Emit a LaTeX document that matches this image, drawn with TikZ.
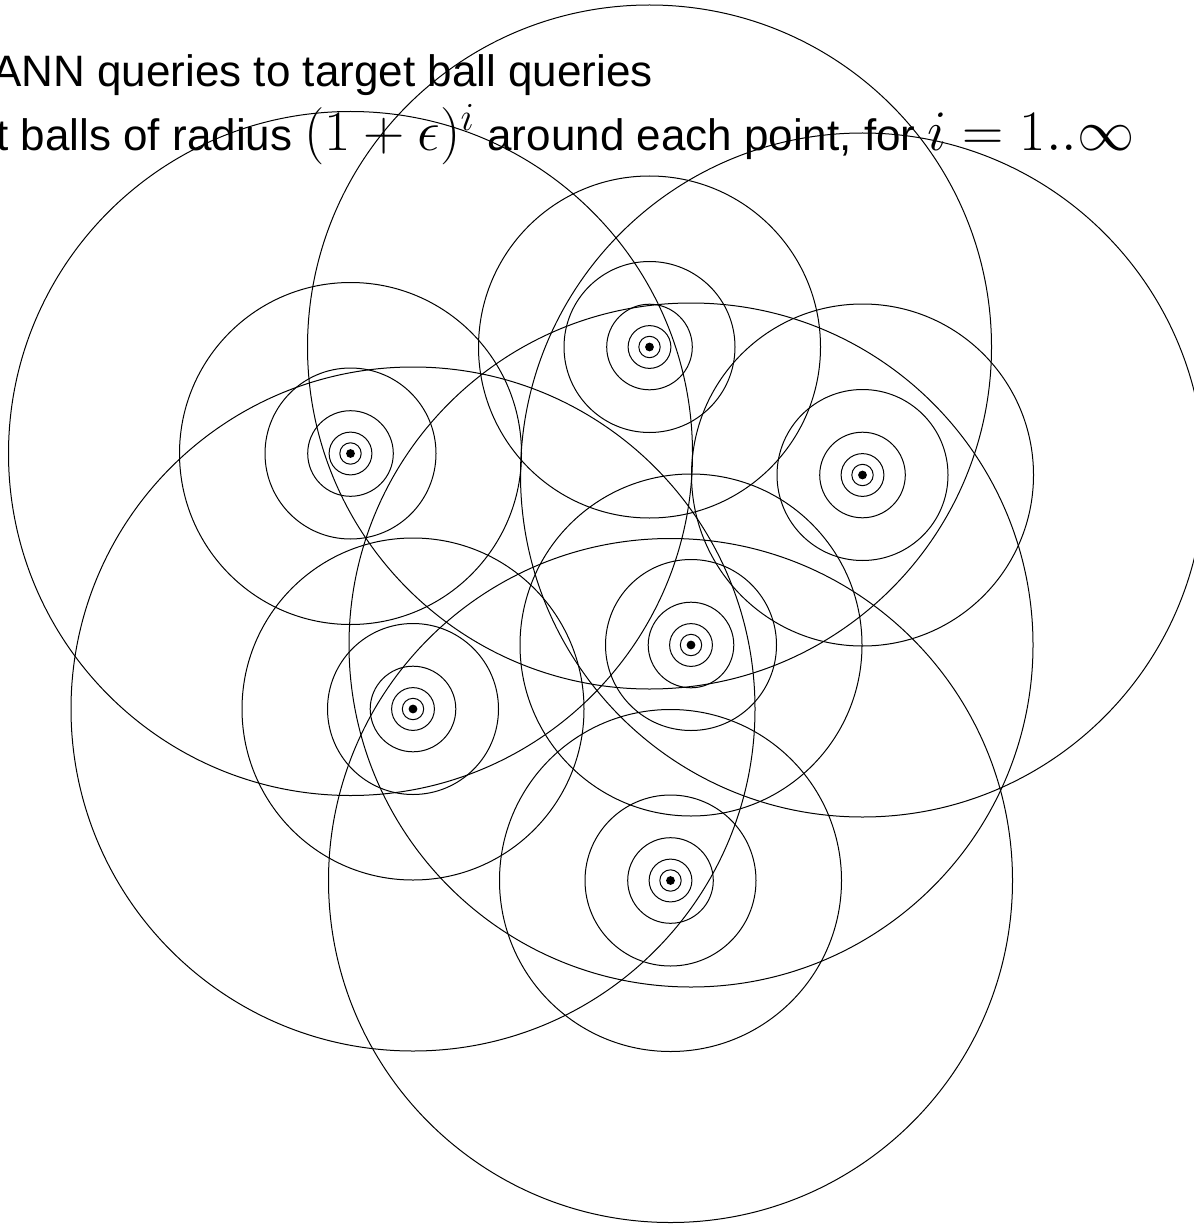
\documentclass[tikz,border=0pt]{standalone}
\usepackage[no-math]{fontspec}
\usepackage{graphicx}
\setmainfont{Liberation Sans}
\newcommand{\bigmath}[1]{\scalebox{1.38}{$#1$}}
\begin{document}
\begin{tikzpicture}[x=0.5pt,y=-0.5pt,
  ring/.style={line width=0.5pt},
  ctr/.style={fill=black},
  title/.style={anchor=base west,inner sep=0pt,font=\fontsize{22}{26}\selectfont}]
\useasboundingbox (0,0) rectangle (1193,1225);
\foreach \n/\x/\y in {p1/350.5/453.5,p2/649.5/347,p3/862.5/475,p4/691/645,p5/413/709,p6/670.5/880.5}{
  \coordinate (\n) at (\x,\y);
  \fill[ctr] (\n) circle[radius=4.4];
  \foreach \r in {10.7,21.4,42.8,85.5,171,342}
    \draw[ring] (\n) circle[radius=\r];
}
\node[title] (t1) at (-8,87) {ANN queries to target ball queries};
\node[title] (t2) at (-4,151) {t balls of radius \bigmath{(1+\epsilon)^i} around each point, for \bigmath{i=1..\infty}};
\end{tikzpicture}
\end{document}
